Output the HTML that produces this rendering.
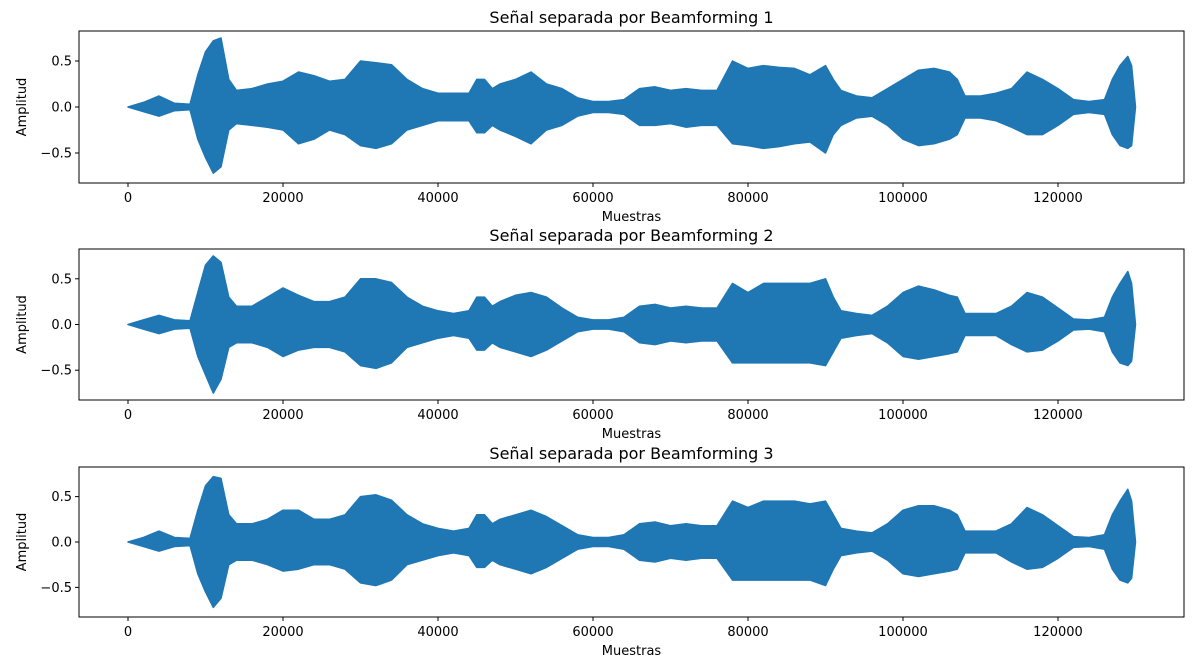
<!DOCTYPE html>
<html><head><meta charset="utf-8">
<style>
html,body{margin:0;padding:0;background:#fff;}
svg text{font-family:"DejaVu Sans","Liberation Sans",sans-serif;fill:#000;}
</style></head>
<body>
<svg id="fig" width="1200" height="666" xmlns="http://www.w3.org/2000/svg"></svg>
<script>
const samples = [0,2000,4000,6000,8000,9000,10000,11000,12000,13000,14000,16000,18000,20000,22000,24000,26000,28000,30000,32000,34000,36000,38000,40000,42000,44000,45000,46000,47000,48000,50000,52000,54000,56000,58000,60000,62000,64000,66000,68000,70000,72000,74000,76000,78000,80000,82000,84000,86000,88000,90000,91000,92000,94000,96000,98000,100000,102000,104000,106000,107000,108000,110000,112000,114000,116000,118000,120000,122000,124000,126000,127000,128000,129000,129500,130000];
const upper1 = [0,0.05,0.12,0.04,0.03,0.35,0.6,0.72,0.75,0.3,0.18,0.2,0.25,0.28,0.38,0.34,0.28,0.3,0.5,0.48,0.46,0.3,0.2,0.15,0.15,0.15,0.3,0.3,0.2,0.25,0.3,0.38,0.25,0.2,0.1,0.06,0.06,0.08,0.2,0.22,0.18,0.2,0.18,0.18,0.5,0.42,0.45,0.43,0.42,0.35,0.45,0.3,0.18,0.12,0.1,0.2,0.3,0.4,0.42,0.38,0.3,0.12,0.12,0.15,0.2,0.38,0.3,0.2,0.08,0.06,0.08,0.3,0.45,0.55,0.45,0];
const lower1 = [0,-0.05,-0.1,-0.04,-0.03,-0.35,-0.55,-0.72,-0.65,-0.25,-0.18,-0.2,-0.22,-0.25,-0.4,-0.35,-0.25,-0.3,-0.42,-0.45,-0.4,-0.25,-0.2,-0.15,-0.15,-0.15,-0.28,-0.28,-0.2,-0.25,-0.32,-0.4,-0.25,-0.2,-0.1,-0.06,-0.06,-0.08,-0.2,-0.2,-0.18,-0.22,-0.2,-0.2,-0.4,-0.42,-0.45,-0.43,-0.4,-0.38,-0.5,-0.3,-0.2,-0.12,-0.1,-0.2,-0.35,-0.42,-0.4,-0.35,-0.3,-0.12,-0.12,-0.15,-0.22,-0.3,-0.3,-0.2,-0.08,-0.06,-0.08,-0.3,-0.42,-0.45,-0.42,0];
const upper2 = [0,0.05,0.1,0.05,0.04,0.35,0.65,0.75,0.68,0.3,0.2,0.2,0.3,0.4,0.32,0.25,0.25,0.3,0.5,0.5,0.46,0.3,0.2,0.15,0.12,0.15,0.3,0.3,0.2,0.25,0.32,0.35,0.3,0.18,0.08,0.05,0.05,0.08,0.2,0.22,0.18,0.2,0.18,0.18,0.45,0.35,0.45,0.45,0.45,0.45,0.5,0.3,0.15,0.12,0.1,0.2,0.35,0.42,0.38,0.32,0.3,0.12,0.12,0.12,0.2,0.35,0.3,0.18,0.06,0.05,0.08,0.3,0.45,0.58,0.45,0];
const lower2 = [0,-0.05,-0.1,-0.05,-0.04,-0.35,-0.55,-0.75,-0.6,-0.25,-0.2,-0.2,-0.25,-0.35,-0.28,-0.25,-0.25,-0.3,-0.45,-0.48,-0.42,-0.25,-0.2,-0.15,-0.12,-0.15,-0.28,-0.28,-0.2,-0.25,-0.3,-0.35,-0.28,-0.18,-0.08,-0.05,-0.05,-0.08,-0.2,-0.22,-0.18,-0.2,-0.18,-0.18,-0.42,-0.42,-0.42,-0.42,-0.42,-0.42,-0.45,-0.3,-0.15,-0.12,-0.1,-0.2,-0.35,-0.38,-0.35,-0.32,-0.3,-0.12,-0.12,-0.12,-0.22,-0.3,-0.28,-0.18,-0.06,-0.05,-0.08,-0.3,-0.42,-0.45,-0.4,0];
const upper3 = [0,0.05,0.12,0.05,0.04,0.35,0.62,0.72,0.7,0.3,0.2,0.2,0.25,0.35,0.35,0.25,0.25,0.3,0.5,0.52,0.46,0.3,0.2,0.15,0.12,0.15,0.3,0.3,0.2,0.25,0.3,0.35,0.28,0.18,0.08,0.05,0.05,0.08,0.2,0.22,0.18,0.2,0.18,0.18,0.45,0.38,0.45,0.45,0.45,0.42,0.45,0.3,0.15,0.12,0.1,0.2,0.35,0.4,0.4,0.35,0.3,0.12,0.12,0.12,0.2,0.38,0.3,0.18,0.06,0.05,0.08,0.3,0.45,0.58,0.45,0];
const lower3 = [0,-0.05,-0.1,-0.05,-0.04,-0.35,-0.55,-0.72,-0.62,-0.25,-0.2,-0.2,-0.25,-0.32,-0.3,-0.25,-0.25,-0.3,-0.45,-0.48,-0.42,-0.25,-0.2,-0.15,-0.12,-0.15,-0.28,-0.28,-0.2,-0.25,-0.3,-0.35,-0.28,-0.18,-0.08,-0.05,-0.05,-0.08,-0.2,-0.22,-0.18,-0.2,-0.18,-0.18,-0.42,-0.42,-0.42,-0.42,-0.42,-0.42,-0.48,-0.3,-0.15,-0.12,-0.1,-0.2,-0.35,-0.38,-0.35,-0.32,-0.3,-0.12,-0.12,-0.12,-0.22,-0.3,-0.28,-0.18,-0.06,-0.05,-0.08,-0.3,-0.42,-0.45,-0.4,0];
const xTicks = [0,20000,40000,60000,80000,100000,120000];
const xTickLabels = ["0","20000","40000","60000","80000","100000","120000"];
const yTicks = [0.5,0.0,-0.5];
const yTickLabels = ["0.5","0.0","−0.5"];
const titles = ["Señal separada por Beamforming 1","Señal separada por Beamforming 2","Señal separada por Beamforming 3"];
const uppers = [upper1,upper2,upper3];
const lowers = [lower1,lower2,lower3];

const NS="http://www.w3.org/2000/svg";
const svg=document.getElementById('fig');
function mk(tag,attrs,parent){const e=document.createElementNS(NS,tag);for(const k in attrs)e.setAttribute(k,attrs[k]);(parent||svg).appendChild(e);return e;}

const panels=[{top:31,bottom:183},{top:249,bottom:400},{top:467,bottom:617}];
const left=79,right=1184;
const xMin=-6323,xMax=136258,yLim=0.826;

panels.forEach((p,i)=>{
  const g=mk('g',{});
  
  
  const X=v=>left+(v-xMin)/(xMax-xMin)*(right-left);
  const Y=v=>p.top+(yLim-v)/(2*yLim)*(p.bottom-p.top);
  let pts=[];
  samples.forEach((s,j)=>pts.push(X(s).toFixed(1)+','+Y(uppers[i][j]).toFixed(1)));
  for(let j=samples.length-1;j>=0;j--)pts.push(X(samples[j]).toFixed(1)+','+Y(lowers[i][j]).toFixed(1));
  const wf=mk('polygon',{points:pts.join(' '),fill:'#1f77b4',stroke:'#1f77b4','stroke-width':1.5,'stroke-linejoin':'round'},g);
  
  
  const fr=mk('rect',{x:left,y:p.top,width:right-left,height:p.bottom-p.top,fill:'none',stroke:'#000','stroke-width':1},g);
  
  
  xTicks.forEach((t,k)=>{
    const x=X(t);
    mk('line',{x1:x,x2:x,y1:p.bottom,y2:p.bottom+4,stroke:'#000'},g);
    const tx=mk('text',{x:x,y:p.bottom+19,'text-anchor':'middle','font-size':13},g);
    tx.textContent=xTickLabels[k];
    
    
  });
  yTicks.forEach((t,k)=>{
    const y=Y(t);
    mk('line',{x1:left-4,x2:left,y1:y,y2:y,stroke:'#000'},g);
    const ty=mk('text',{x:left-7,y:y+4.5,'text-anchor':'end','font-size':13},g);
    ty.textContent=yTickLabels[k];
    
    
  });
  const ti=mk('text',{x:(left+right)/2,y:p.top-8,'text-anchor':'middle','font-size':16},g);
  ti.textContent=titles[i];
  
  
  const xl=mk('text',{x:(left+right)/2,y:p.bottom+38,'text-anchor':'middle','font-size':13},g);
  xl.textContent='Muestras';
  
  
  const cy=(p.top+p.bottom)/2;
  const yl=mk('text',{x:26,y:cy,'text-anchor':'middle','font-size':13,transform:'rotate(-90 26 '+cy+')'},g);
  yl.textContent='Amplitud';
  
  
});
</script>
</body></html>
